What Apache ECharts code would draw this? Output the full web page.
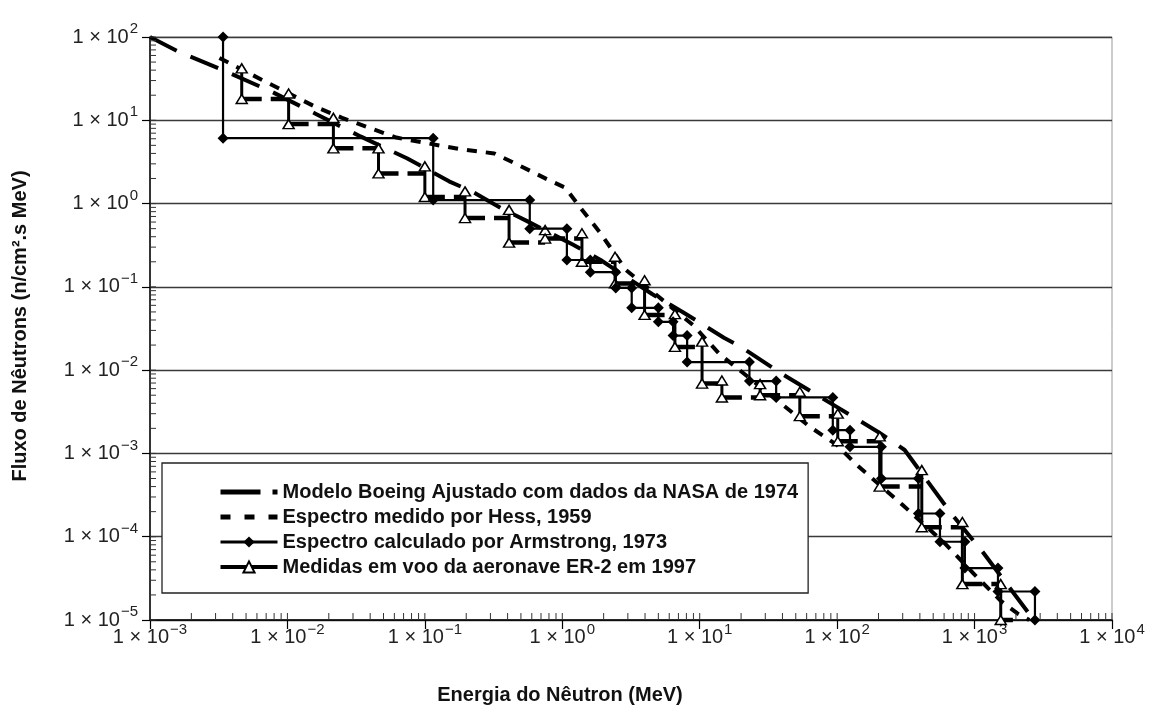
<!DOCTYPE html>
<html>
<head>
<meta charset="utf-8">
<script src="https://cdn.jsdelivr.net/npm/echarts@6/dist/echarts.min.js"></script>
<style>
  html, body { margin: 0; padding: 0; background: #fff; }
  #chart { width: 1161px; height: 720px; }
</style>
</head>
<body>
<div id="chart"></div>
<script>
// Neutron flux spectra vs. neutron energy (log-log)

// Boeing model fitted to 1974 NASA data (smooth curve)
const boeingEnergy = [0.001, 0.0016, 0.0034, 0.0077, 0.016, 0.034, 0.074, 0.15, 0.22, 0.36, 0.55, 1.2, 1.9, 4.5, 7.5, 15, 20, 41, 75, 100, 150, 200, 310, 660, 1150, 2700];
const boeingFlux   = [100, 67, 40, 22, 12, 6.4, 3.5, 1.85, 1.4, 0.88, 0.62, 0.32, 0.21, 0.082, 0.050, 0.0245, 0.019, 0.0087, 0.0048, 0.0036, 0.0024, 0.0018, 0.0011, 0.0002, 6.5e-5, 1e-5];

// Hess, 1959 measured spectrum
const hessEnergy = [0.0032, 0.0074, 0.016, 0.025, 0.062, 0.18, 0.32, 0.48, 0.78, 1.05, 1.4, 1.9, 2.9, 8.9, 14, 45, 63, 100, 135, 300, 600, 1000, 1550, 2050, 2500];
const hessFlux   = [56, 27.5, 14.5, 10.7, 6.2, 4.5, 4.0, 2.9, 1.95, 1.55, 0.83, 0.44, 0.16, 0.035, 0.0155, 0.0033, 0.0021, 0.00126, 0.00076, 0.00024, 8.5e-5, 3.5e-5, 1.7e-5, 1.2e-5, 1e-5];

// Armstrong, 1973 calculated spectrum (histogram): bin edges and the level on each side
const armstrongEdges = [0.0034, 0.115, 0.58, 1.08, 1.6, 2.45, 3.2, 5.0, 6.4, 8.1, 23, 36, 93, 124, 210, 390, 560, 850, 1480, 2750];
const armstrongFlux  = [100, 6.1, 1.1, 0.5, 0.21, 0.15, 0.097, 0.056, 0.038, 0.026, 0.0125, 0.0074, 0.0047, 0.0019, 0.0012, 0.0005, 0.00019, 8.7e-5, 4.2e-5, 2.2e-5, 1e-5];

// ER-2 in-flight measurements, 1997: bin start, upper and lower value at each bin start
const er2Edges = [0.00465, 0.0102, 0.0216, 0.046, 0.1, 0.196, 0.41, 0.75, 1.39, 2.42, 3.97, 6.6, 10.4, 14.5, 27.5, 53.5, 101, 204, 413, 815, 1550];
const er2Upper = [42, 21, 10.7, 4.6, 2.8, 1.4, 0.84, 0.48, 0.44, 0.23, 0.12, 0.047, 0.022, 0.0075, 0.0068, 0.0055, 0.003, 0.0016, 0.00063, 0.00015, 2.7e-5];
const er2Lower = [18, 9, 4.6, 2.3, 1.2, 0.67, 0.34, 0.38, 0.2, 0.11, 0.046, 0.019, 0.0069, 0.0047, 0.005, 0.0028, 0.0014, 0.0004, 0.00013, 2.7e-5, 1e-5];
const er2End = 1900;

// Axis decades
const energyDecades = [1e-3, 1e-2, 1e-1, 1e0, 1e1, 1e2, 1e3, 1e4];
const fluxDecades   = [1e-5, 1e-4, 1e-3, 1e-2, 1e-1, 1e0, 1e1, 1e2];

const seriesNames = [
  'Modelo Boeing Ajustado com dados da NASA de 1974',
  'Espectro medido por Hess, 1959',
  'Espectro calculado por Armstrong, 1973',
  'Medidas em voo da aeronave ER-2 em 1997'
];

const FONT = '"Liberation Sans", Arial, Helvetica, sans-serif';
const X_MIN = energyDecades[0], X_MAX = energyDecades[energyDecades.length - 1];
const Y_MIN = fluxDecades[0], Y_MAX = fluxDecades[fluxDecades.length - 1];

// Paths built from the data arrays
const zip = (xs, ys) => xs.map((x, i) => [x, ys[i]]);

const armstrongPath = [];
armstrongEdges.forEach((e, i) => {
  armstrongPath.push([e, armstrongFlux[i]], [e, armstrongFlux[i + 1]]);
});

const er2Vertical = [];
const er2Horizontal = [];
er2Edges.forEach((e, i) => {
  const next = i + 1 < er2Edges.length ? er2Edges[i + 1] : er2End;
  er2Vertical.push([e, er2Upper[i]], [e, er2Lower[i]], [e, '-']);
  er2Horizontal.push([e, er2Lower[i]], [next, er2Lower[i]], [next, '-']);
});

// log-spaced minor ticks (1..9 x each decade)
function logTicks(decades) {
  const out = [];
  for (let i = 0; i < decades.length - 1; i++) {
    for (let k = 1; k <= 9; k++) out.push(decades[i] * k);
  }
  out.push(decades[decades.length - 1]);
  return out;
}
const xTickData = logTicks(energyDecades).map(v => [v, Y_MIN]);
const yTickData = logTicks(fluxDecades).map(v => [X_MIN, v]);

function powLabel(v) {
  const e = Math.round(Math.log10(v));
  return '{b|1 × 10}{s|' + String(e).replace('-', '\u2212') + '}';
}
const richLabel = {
  b: { fontSize: 20, lineHeight: 31, fontFamily: FONT, color: '#222' },
  s: { fontSize: 15, lineHeight: 15, verticalAlign: 'top', fontFamily: FONT, color: '#222', padding: [0, 0, 0, 1] }
};

// plain dashed lines get no marker in the legend
const noMarker = { color: 'rgba(0,0,0,0)', borderWidth: 0 };

const chart = echarts.init(document.getElementById('chart'), null, { renderer: 'canvas' });

chart.setOption({
  animation: false,
  backgroundColor: '#fff',
  grid: { left: 150, right: 49, top: 37, bottom: 100, show: true, borderColor: '#9a9a9a', borderWidth: 1 },
  legend: {
    orient: 'vertical',
    left: 162, top: 463,
    data: [
      { name: seriesNames[0], itemStyle: noMarker, lineStyle: { width: 5, type: [40, 12] } },
      { name: seriesNames[1], itemStyle: noMarker, lineStyle: { width: 5, type: [10, 14] } },
      { name: seriesNames[2], lineStyle: { width: 3 } },
      { name: seriesNames[3], lineStyle: { width: 4 } }
    ],
    selectedMode: false,
    itemWidth: 57, itemHeight: 14, itemGap: 5,
    padding: [19, 10, 16, 56],
    backgroundColor: '#fff',
    borderColor: '#222', borderWidth: 1.3, borderRadius: 0,
    textStyle: { fontSize: 20, fontWeight: 'bold', fontFamily: FONT, color: '#111', lineHeight: 20 },
    z: 20
  },
  xAxis: {
    type: 'log', logBase: 10, min: X_MIN, max: X_MAX, splitNumber: 7,
    axisLine: { lineStyle: { color: '#000', width: 1.5 } },
    axisTick: { show: true, inside: false, length: 9, lineStyle: { color: '#000', width: 1.2 } },
    splitLine: { show: false },
    axisLabel: { margin: 2, formatter: powLabel, rich: richLabel, showMinLabel: true, showMaxLabel: true }
  },
  yAxis: {
    type: 'log', logBase: 10, min: Y_MIN, max: Y_MAX, splitNumber: 7,
    axisLine: { lineStyle: { color: '#000', width: 1.5 } },
    axisTick: { show: true, inside: false, length: 8, lineStyle: { color: '#000', width: 1.2 } },
    splitLine: { show: true, lineStyle: { color: '#3a3a3a', width: 1.3 } },
    axisLabel: { margin: 12, formatter: powLabel, rich: richLabel, showMinLabel: true, showMaxLabel: true }
  },
  graphic: [
    {
      type: 'text', x: 560, y: 695,
      style: { text: 'Energia do Nêutron (MeV)', align: 'center', verticalAlign: 'middle',
               fontSize: 20, fontWeight: 'bold', fontFamily: FONT, fill: '#111' }
    },
    {
      type: 'text', x: 20, y: 326, rotation: Math.PI / 2,
      style: { text: 'Fluxo de Nêutrons (n/cm².s MeV)', align: 'center', verticalAlign: 'middle',
               fontSize: 20, fontWeight: 'bold', fontFamily: FONT, fill: '#111' }
    }
  ],
  series: [
    {
      name: seriesNames[0], type: 'line', data: zip(boeingEnergy, boeingFlux),
      symbol: 'none', clip: false, z: 2,
      itemStyle: { color: '#000' },
      lineStyle: { color: '#000', width: 4, type: [30, 15] }
    },
    {
      name: seriesNames[1], type: 'line', data: zip(hessEnergy, hessFlux),
      symbol: 'none', clip: false, z: 2,
      itemStyle: { color: '#000' },
      lineStyle: { color: '#000', width: 4, type: [10, 9] }
    },
    {
      name: seriesNames[3], type: 'line', data: er2Vertical,
      symbol: 'triangle', symbolSize: [11, 9], clip: false, z: 4,
      connectNulls: false,
      itemStyle: { color: '#fff', borderColor: '#000', borderWidth: 1.5 },
      lineStyle: { color: '#000', width: 3 }
    },
    {
      name: seriesNames[3], type: 'line', data: er2Horizontal,
      symbol: 'none', clip: false, z: 3,
      connectNulls: false,
      lineStyle: { color: '#000', width: 4.5, type: [20, 9] }
    },
    {
      name: seriesNames[2], type: 'line', data: armstrongPath,
      symbol: 'diamond', symbolSize: 11, clip: false, z: 5,
      itemStyle: { color: '#000' },
      lineStyle: { color: '#000', width: 2.2 }
    },
    {
      type: 'custom', data: xTickData, silent: true, z: 6,
      renderItem: (params, api) => {
        const p = api.coord([api.value(0), api.value(1)]);
        return { type: 'line', shape: { x1: p[0], y1: p[1], x2: p[0], y2: p[1] - 7 },
                 style: { stroke: '#333', lineWidth: 1 } };
      }
    },
    {
      type: 'custom', data: yTickData, silent: true, z: 6,
      renderItem: (params, api) => {
        const p = api.coord([api.value(0), api.value(1)]);
        return { type: 'line', shape: { x1: p[0], y1: p[1], x2: p[0] + 6, y2: p[1] },
                 style: { stroke: '#333', lineWidth: 1 } };
      }
    }
  ]
});
</script>
</body>
</html>
